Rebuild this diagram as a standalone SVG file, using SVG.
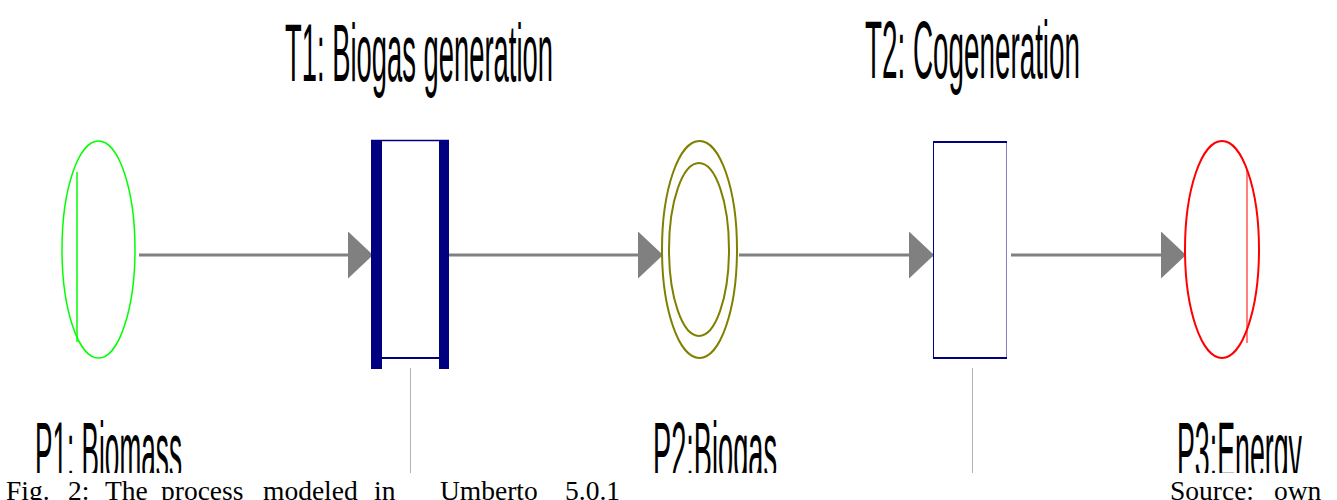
<svg xmlns="http://www.w3.org/2000/svg" width="1337" height="500" viewBox="0 0 1337 500">
<style>
.lbl{font-family:"Liberation Sans",Arial,sans-serif;font-size:81px;fill:#000}
.cap{font-family:"Liberation Serif","Times New Roman",serif;font-size:27.5px;fill:#000}
.conn{stroke:#808080;stroke-width:3;fill:none}
.navy{fill:#000080}
.tick{stroke:#b4b4b4;stroke-width:1}
</style>
<defs>
<marker id="ah" markerUnits="userSpaceOnUse" markerWidth="26" markerHeight="48" refX="25" refY="23.5" orient="auto" viewBox="0 0 26 48">
<path d="M0,0 L25,23.5 L0,47 Z" fill="#808080"/>
</marker>
<clipPath id="clipLbl"><rect x="0" y="0" width="1337" height="473"/></clipPath>
</defs>
<rect width="1337" height="500" fill="#fff"/>
<g id="connectors">
<line class="conn" x1="139" y1="255" x2="373" y2="255" marker-end="url(#ah)"/>
<line class="conn" x1="449" y1="255" x2="663" y2="255" marker-end="url(#ah)"/>
<line class="conn" x1="739" y1="255" x2="934" y2="255" marker-end="url(#ah)"/>
<line class="conn" x1="1011" y1="255" x2="1186" y2="255" marker-end="url(#ah)"/>
<line class="tick" x1="410.5" y1="368" x2="410.5" y2="473"/>
<line class="tick" x1="972.5" y1="368" x2="972.5" y2="473"/>
</g>
<g id="P1">
<ellipse cx="98.5" cy="249.5" rx="36.5" ry="108.5" fill="none" stroke="#00ff00" stroke-width="1.5"/>
<line x1="77" y1="172" x2="77" y2="342" stroke="#00ff00" stroke-width="1.5"/>
<text class="lbl" x="35" y="479" textLength="147" lengthAdjust="spacingAndGlyphs" clip-path="url(#clipLbl)">P1: Biomass</text>
</g>
<g id="T1">
<rect class="navy" x="371" y="140" width="11" height="229"/>
<rect class="navy" x="439" y="141" width="10" height="228"/>
<line x1="371" y1="140.5" x2="449" y2="140.5" stroke="#000080" stroke-width="1.5"/>
<line x1="382" y1="358" x2="439" y2="358" stroke="#000080" stroke-width="2"/>
<text class="lbl" x="285" y="81" textLength="268" lengthAdjust="spacingAndGlyphs">T1: Biogas generation</text>
</g>
<g id="P2">
<ellipse cx="699.5" cy="249.5" rx="37.5" ry="108.5" fill="none" stroke="#808000" stroke-width="2"/>
<ellipse cx="699" cy="249.5" rx="30" ry="86.5" fill="none" stroke="#808000" stroke-width="2"/>
<text class="lbl" x="653" y="479" textLength="124" lengthAdjust="spacingAndGlyphs" clip-path="url(#clipLbl)">P2:Biogas</text>
</g>
<g id="T2">
<rect x="933.5" y="141" width="73" height="217" fill="#fff" stroke="none"/>
<line x1="933.5" y1="141" x2="933.5" y2="358" stroke="#000080" stroke-width="1"/>
<line x1="1006.5" y1="141" x2="1006.5" y2="358" stroke="#8080c0" stroke-width="1"/>
<line x1="933" y1="142" x2="1007" y2="142" stroke="#000080" stroke-width="2"/>
<line x1="933" y1="358" x2="1007" y2="358" stroke="#000080" stroke-width="2"/>
<text class="lbl" x="865" y="78" textLength="215" lengthAdjust="spacingAndGlyphs">T2: Cogeneration</text>
</g>
<g id="P3">
<ellipse cx="1222" cy="249.5" rx="37" ry="108.5" fill="none" stroke="#ff0000" stroke-width="2"/>
<line x1="1247" y1="170" x2="1247" y2="343" stroke="#ff0000" stroke-width="1"/>
<text class="lbl" x="1177" y="479" textLength="125" lengthAdjust="spacingAndGlyphs" clip-path="url(#clipLbl)">P3:Energy</text>
</g>
<g id="caption">
<text class="cap" y="499.5"><tspan x="6">Fig.</tspan><tspan x="68">2:</tspan><tspan x="105">The</tspan><tspan x="161">process</tspan><tspan x="263">modeled</tspan><tspan x="374">in</tspan><tspan x="440">Umberto</tspan><tspan x="565">5.0.1</tspan></text>
<text class="cap" y="499.5"><tspan x="1170">Source:</tspan><tspan x="1274">own</tspan></text>
</g>
</svg>
